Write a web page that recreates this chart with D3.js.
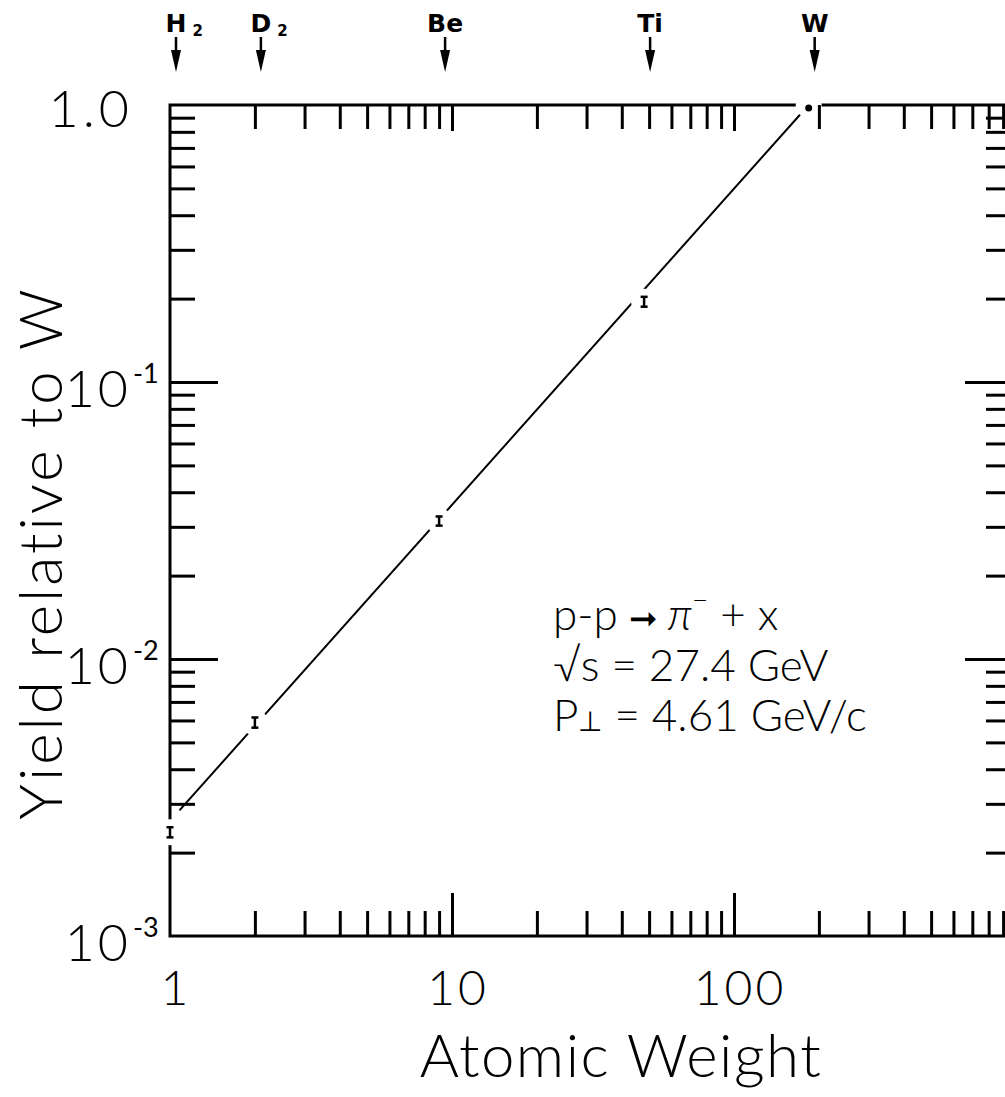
<!DOCTYPE html>
<html><head><meta charset="utf-8">
<script src="https://cdn.jsdelivr.net/npm/d3@7"></script>
<style>body{margin:0;background:#fff} svg{display:block}</style>
</head><body><svg id="c" width="1005" height="1097"></svg>
<script>
// ---- data ----
const targetNames = ["H", "D", "Be", "Ti", "W"];
const targetSubs = ["2", "2", "", "", ""];
const atomicWeight = [1, 2, 9, 48, 184];
const yieldRel = [0.00237, 0.0059, 0.0315, 0.195, 1.0];
const yieldErr = [0.0001, 0.00025, 0.0012, 0.008, 0];
const fitA = [1.08, 184];
const fitYield = [0.00284, 1.0];
const xTickValues = [1, 10, 100];
const xTickLabels = ["1", "10", "100"];
const yTickValues = [1, 0.1, 0.01, 0.001];
const yTickMant = ["1.0", "10", "10", "10"];
const yTickExp = ["", "-1", "-2", "-3"];

const svg = d3.select("#c");
const x = d3.scaleLog().domain([1, 1000]).range([170, 1016]);
const y = d3.scaleLog().domain([1e-3, 1]).range([936, 105]);
const FONT = "Lato, 'Open Sans', sans-serif";
const isPow10 = v => Math.abs(Math.log10(v) - Math.round(Math.log10(v))) < 1e-9;

// frame
svg.append("rect").attr("x", x(1)).attr("y", y(1))
  .attr("width", x(1000) - x(1)).attr("height", y(1e-3) - y(1))
  .attr("fill", "none").attr("stroke", "#000").attr("stroke-width", 3);

// fit line
svg.append("path")
  .attr("d", d3.line()(fitA.map((a, i) => [x(a), y(fitYield[i])])))
  .attr("stroke", "#000").attr("stroke-width", 2).attr("fill", "none");

// white halos (gaps around points)
svg.selectAll("circle.halo").data(atomicWeight).join("circle")
  .attr("cx", d => x(d)).attr("cy", (d, i) => y(yieldRel[i]))
  .attr("r", 13).attr("fill", "#fff");

// ticks
const xMinor = x.ticks().filter(v => !isPow10(v));
const xMajor = [10, 100];
const yMinor = y.ticks().filter(v => !isPow10(v));
const yMajor = [0.1, 0.01];
function tickG(gen, vals, size, tr) {
  const g = svg.append("g").attr("transform", tr)
    .call(gen.tickValues(vals).tickSize(size).tickFormat(""));
  g.select(".domain").remove();
  g.selectAll("line").attr("stroke", "#000").attr("stroke-width", 3);
}
tickG(d3.axisBottom(x), xMinor, -25, `translate(0,${y(1e-3)})`);
tickG(d3.axisBottom(x), xMajor, -43, `translate(0,${y(1e-3)})`);
tickG(d3.axisTop(x), xMinor, -24, `translate(0,${y(1)})`);
tickG(d3.axisTop(x), xMajor, -26, `translate(0,${y(1)})`);
tickG(d3.axisLeft(y), yMinor, -25, `translate(${x(1)},0)`);
tickG(d3.axisLeft(y), yMajor, -48, `translate(${x(1)},0)`);
tickG(d3.axisRight(y), yMinor, -30, `translate(${x(1000)},0)`);
tickG(d3.axisRight(y), yMajor, -51, `translate(${x(1000)},0)`);

// markers: error bars
const pts = atomicWeight.map((a, i) => ({a, v: yieldRel[i], e: yieldErr[i]}));
pts.filter(p => p.e > 0).forEach(p => {
  const cx = x(p.a), y0 = y(p.v - p.e), y1 = y(p.v + p.e);
  const g = svg.append("g").attr("stroke", "#000").attr("stroke-width", 2.5);
  g.append("line").attr("x1", cx).attr("x2", cx).attr("y1", y0).attr("y2", y1);
  g.append("line").attr("x1", cx - 3.5).attr("x2", cx + 3.5).attr("y1", y0).attr("y2", y0);
  g.append("line").attr("x1", cx - 3.5).attr("x2", cx + 3.5).attr("y1", y1).attr("y2", y1);
});
pts.filter(p => p.e === 0).forEach(p => {
  svg.append("circle").attr("cx", x(p.a)).attr("cy", y(p.v) + 3).attr("r", 3.5).attr("fill", "#000");
});

// target labels with arrows
atomicWeight.forEach((a, i) => {
  const cx = x(a) + 6;
  const t = svg.append("text").attr("x", cx).attr("y", 32)
    .attr("text-anchor", "middle").attr("font-family", "'DejaVu Sans', sans-serif")
    .attr("font-size", 25).attr("font-weight", "bold").text(targetNames[i]);
  if (targetSubs[i]) {
    const w = t.node().getComputedTextLength();
    svg.append("text").attr("x", cx + w / 2 + 6).attr("y", 36)
      .attr("font-family", "'DejaVu Sans', sans-serif").attr("font-size", 15)
      .attr("font-weight", "bold").text(targetSubs[i]);
  }
  svg.append("line").attr("x1", cx).attr("x2", cx).attr("y1", 37).attr("y2", 56)
    .attr("stroke", "#000").attr("stroke-width", 2.5);
  svg.append("path").attr("d", `M${cx - 5},50 L${cx + 5},50 L${cx},72 Z`).attr("fill", "#000");
});

// bottom tick labels
svg.selectAll("text.xl").data(xTickValues).join("text")
  .attr("x", d => x(d) + 6).attr("y", 1005).attr("text-anchor", "middle")
  .attr("font-family", FONT).attr("font-weight", 300).attr("font-size", 48)
  .attr("letter-spacing", 3)
  .text((d, i) => xTickLabels[i]);

// left tick labels
yTickValues.forEach((v, i) => {
  if (!yTickExp[i]) {
    svg.append("text").attr("x", 133).attr("y", y(v) + 22).attr("text-anchor", "end")
      .attr("font-family", FONT).attr("font-weight", 300).attr("font-size", 52)
      .attr("letter-spacing", 4).text(yTickMant[i]);
  } else {
    svg.append("text").attr("x", 131).attr("y", y(v) + 25).attr("text-anchor", "end")
      .attr("font-family", FONT).attr("font-weight", 300).attr("font-size", 52)
      .attr("letter-spacing", 3).text(yTickMant[i]);
    svg.append("text").attr("x", 133).attr("y", y(v) + 1)
      .attr("font-family", FONT).attr("font-weight", 400).attr("font-size", 27)
      .text(yTickExp[i]);
  }
});

// axis titles
svg.append("text").attr("x", 621).attr("y", 1077).attr("text-anchor", "middle")
  .attr("font-family", FONT).attr("font-weight", 300).attr("font-size", 60)
  .attr("letter-spacing", 1.5).text("Atomic  Weight");
svg.append("text").attr("transform", "translate(62,553) rotate(-90)").attr("text-anchor", "middle")
  .attr("font-family", FONT).attr("font-weight", 300).attr("font-size", 60)
  .attr("letter-spacing", 3).text("Yield relative to W");

// annotation
const note = svg.append("g").attr("font-family", FONT).attr("font-weight", 300).attr("font-size", 44);
const l1 = note.append("text").attr("x", 553).attr("y", 630);
l1.append("tspan").text("p-p");
l1.append("tspan").text(" \u279E").attr("font-family", "'DejaVu Sans', sans-serif").attr("font-size", 34);
l1.append("tspan").text(" \u03C0").attr("font-style", "italic");
l1.append("tspan").text("\u2212").attr("dy", -20).attr("font-size", 28);
l1.append("tspan").text("  + x").attr("dy", 20);
const l2 = note.append("text").attr("x", 553).attr("y", 681);
l2.append("tspan").text("\u221As");
l2.append("tspan").text("  =  27.4  GeV");
const l3 = note.append("text").attr("x", 553).attr("y", 731);
l3.append("tspan").text("P");
l3.append("tspan").text("\u22A5").attr("font-size", 28);
l3.append("tspan").text(" =  4.61   GeV/c");
</script></body></html>
